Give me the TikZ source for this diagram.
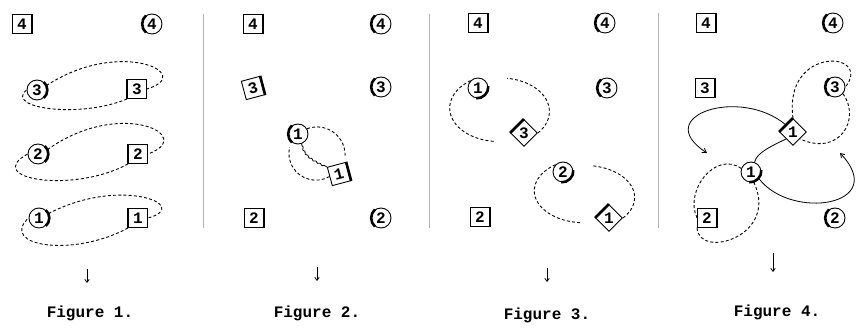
\documentclass[tikz,border=0pt]{standalone}
\usepackage{fontspec}
\setmonofont{Liberation Mono}
\usetikzlibrary{shapes.geometric,arrows.meta,decorations.pathmorphing}

\tikzset{
  heavy/.style={draw, line width=2.6pt},
  digits/.style={font=\ttfamily\bfseries\fontsize{16}{16}\selectfont},
  box/.style={draw, digits, line width=0.9pt, minimum size=19pt, inner sep=0pt},
  boxR/.style={box, append after command={(\tikzlastnode.north east) edge[heavy] (\tikzlastnode.south east)}},
  boxL/.style={box, append after command={(\tikzlastnode.north west) edge[heavy] (\tikzlastnode.south west)}},
  coin/.style 2 args={circle, draw, digits, line width=0.9pt, minimum size=20pt, inner sep=0pt,
    append after command={(\tikzlastnode.#1) edge[heavy, bend left=50] (\tikzlastnode.#2)}},
  tile/.style={diamond, aspect=1, draw, digits, line width=0.9pt, minimum size=27pt, inner sep=0pt,
    append after command={(\tikzlastnode.north) edge[heavy] (\tikzlastnode.west)}},
  track/.style={dash pattern=on 3pt off 2.2pt, line width=0.9pt},
  swing/.style={line width=0.8pt},
  wiggle/.style={line width=0.8pt, decorate, decoration={snake, amplitude=0.7pt, segment length=5pt, pre length=2pt, post length=2pt}},
  fall/.style={line width=0.8pt, -{Straight Barb[length=3pt, width=4.5pt]}},
  rule/.style={gray!60, line width=1pt},
  caption/.style={font=\ttfamily\bfseries\fontsize{16}{16}\selectfont}
}

\begin{document}
\begin{tikzpicture}[x=1pt, y=1pt]
  \useasboundingbox (0,0) rectangle (857,331);

  % Figure 1
  \node[boxR] (As4) at (22,307) {4};
  \node[coin={235}{125}] (Ac4) at (152,307) {4};
  \node[coin={50}{-50}] (Ac3) at (37,241) {3};
  \node[boxL] (As3) at (137,242) {3};
  \node[coin={50}{-50}] (Ac2) at (38,177) {2};
  \node[boxL] (As2) at (138,177) {2};
  \node[coin={50}{-50}] (Ac1) at (39,113) {1};
  \node[boxL] (As1) at (138,113) {1};

  \draw[track] (Ac3.25) .. controls +(73,48) and +(50,15) .. (As3.east);
  \draw[track] (As3.south west) .. controls +(-48,-20) and +(-22,-18) .. (Ac3.west);
  \draw[track] (Ac2.25) .. controls +(73,52) and +(50,18) .. (As2.east);
  \draw[track] (As2.south west) .. controls +(-55,-30) and +(-45,-25) .. (Ac2.west);
  \draw[track] (Ac1.25) .. controls +(73,38) and +(45,12) .. (As1.east);
  \draw[track] (As1.south west) .. controls +(-55,-30) and +(-30,-28) .. (Ac1.west);

  \node[caption] (Af) at (90,18) {Figure 1.};
  \coordinate (Aa) at (87,62);
  \draw[fall] (Aa) -- ++(0,-14);

  \draw[rule] (203,317) -- (203,103);

  % Figure 2
  \node[boxR] (Bs4) at (253,307) {4};
  \node[coin={235}{125}] (Bc4) at (381,307) {4};
  \node[boxR, rotate=15] (Bs3) at (253,243) {3};
  \node[coin={235}{125}] (Bc3) at (381,244) {3};
  \node[coin={235}{125}] (Bc1) at (298,197) {1};
  \node[boxR, rotate=15] (Bs1) at (339,157) {1};
  \node[boxR] (Bs2) at (254,113) {2};
  \node[coin={235}{125}] (Bc2) at (381,113) {2};

  \draw[track] (Bc1.30) arc[start angle=111, end angle=-5, radius=28];
  \draw[track] (Bs1.west) arc[start angle=-60, end angle=-193, radius=27];
  \draw[wiggle] (Bc1.-70) .. controls +(3,-14) and +(-12,8) .. (Bs1.north west);

  \node[caption] (Bf) at (317,18) {Figure 2.};
  \coordinate (Ba) at (317,64);
  \draw[fall] (Ba) -- ++(0,-14);

  \draw[rule] (429,317) -- (429,103);

  % Figure 3
  \node[boxR] (Cs4) at (478,308) {4};
  \node[coin={235}{125}] (Cc4) at (605,308) {4};
  \node[coin={10}{-100}] (Cc1) at (478,243) {1};
  \node[coin={235}{125}] (Cc3) at (607,243) {3};
  \node[tile] (Cd3) at (524,198) {3};
  \node[coin={10}{-100}] (Cc2) at (563,159) {2};
  \node[boxR] (Cs2) at (480,114) {2};
  \node[tile] (Cd1) at (609,113) {1};

  \draw[track] (Cc1.135) arc[start angle=125, end angle=265, x radius=49, y radius=33.5];
  \draw[track] (Cd3.east) arc[start angle=-40, end angle=82, x radius=49, y radius=33.5];
  \draw[track] (Cc2.135) arc[start angle=125, end angle=265, x radius=50, y radius=32];
  \draw[track] (Cd1.east) arc[start angle=-40, end angle=82, x radius=50, y radius=32];

  \node[caption] (Cf) at (547,16) {Figure 3.};
  \coordinate (Ca) at (547,63);
  \draw[fall] (Ca) -- ++(0,-14);

  \draw[rule] (658,318) -- (658,103);

  % Figure 4
  \node[boxR] (Ds4) at (706,308) {4};
  \node[coin={235}{125}] (Dc4) at (833,308) {4};
  \node[boxR] (Ds3) at (705,243) {3};
  \node[coin={235}{125}] (Dc3) at (835,244) {3};
  \node[tile] (Dd1) at (793,199) {1};
  \node[coin={10}{-100}] (Dc1) at (751,159) {1};
  \node[boxR] (Ds2) at (707,113) {2};
  \node[coin={235}{125}] (Dc2) at (835,113) {2};

  \draw[track] (Dd1.north) .. controls +(-10,73) and +(28,36) .. (Dc3.east);
  \draw[track] (Dc3.-40) .. controls +(18,-25) and +(40,-18) .. (Dd1.south east);
  \draw[track] (Dc1.160) .. controls +(-26,18) and +(-13,27) .. (Ds2.west);
  \draw[track] (Ds2.south west) .. controls +(2,-32) and +(26,-54) .. (Dc1.-75);

  \coordinate (Dp) at (707,178);
  \coordinate (Dq) at (840,178);
  \draw[swing, -{Straight Barb[length=4pt, width=5pt]}] (Dd1.north west) .. controls +(-46,39) and +(-57,37) .. (Dp);
  \draw[swing, -{Straight Barb[length=4pt, width=5pt]}] (Dc1.-40) .. controls +(32,-42) and +(50,-53) .. (Dq);
  \draw[swing] (Dc1.70) .. controls +(2,10) and +(-12,-6) .. (Dd1.south west);

  \node[caption] (Df) at (777,19) {Figure 4.};
  \coordinate (Da) at (773,78);
  \draw[fall] (Da) -- ++(0,-19);
\end{tikzpicture}
\end{document}
